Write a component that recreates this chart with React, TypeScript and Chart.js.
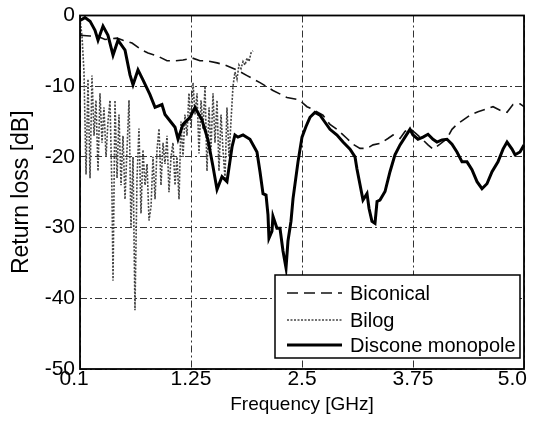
import React, { useEffect, useRef } from "react";
import { Chart, registerables } from "chart.js";

Chart.register(...registerables);

// ---- axis ticks ----
const xTickValues = [0, 1.25, 2.5, 3.75, 5];
const xTickLabels = ["0.1", "1.25", "2.5", "3.75", "5.0"];
const yTickValues = [0, -10, -20, -30, -40, -50];

const seriesNames = ["Biconical", "Bilog", "Discone monopole"];

// ---- Discone monopole ----
const disconeFreq = [
  0.0, 0.056, 0.113, 0.169, 0.203, 0.259, 0.315, 0.372, 0.428, 0.507, 0.563, 0.597,
  0.653, 0.709, 0.788, 0.845, 0.923, 0.957, 1.07, 1.104, 1.16, 1.239, 1.295, 1.374,
  1.441, 1.498, 1.543, 1.599, 1.655, 1.712, 1.745, 1.779, 1.836, 1.914, 1.993, 2.027,
  2.061, 2.095, 2.117, 2.128, 2.162, 2.173, 2.218, 2.252, 2.286, 2.32, 2.342, 2.376,
  2.399, 2.455, 2.5, 2.545, 2.59, 2.646, 2.703, 2.759, 2.815, 2.894, 2.962, 3.041,
  3.097, 3.119, 3.153, 3.187, 3.232, 3.255, 3.288, 3.322, 3.345, 3.378, 3.435, 3.491,
  3.547, 3.604, 3.66, 3.716, 3.75, 3.806, 3.863, 3.919, 3.975, 4.02, 4.077, 4.133,
  4.189, 4.245, 4.302, 4.358, 4.414, 4.471, 4.527, 4.583, 4.64, 4.707, 4.764, 4.809,
  4.865, 4.899, 4.955, 5.0,
];
const disconeLoss = [
  -0.7, -0.3, -0.8, -2.1, -3.5, -1.5, -2.8, -5.6, -3.5, -4.9, -8.4, -9.8,
  -7.7, -9.1, -11.2, -13.0, -12.6, -14.0, -15.8, -17.5, -15.4, -14.4, -13.0, -14.8,
  -17.6, -21.4, -24.6, -22.8, -23.5, -18.6, -16.9, -17.2, -16.9, -17.5, -19.3, -22.1,
  -25.2, -25.4, -28.2, -31.5, -30.5, -28.4, -30.1, -30.1, -33.3, -35.7, -31.9, -29.1,
  -25.9, -20.7, -17.2, -15.7, -14.4, -13.7, -14.1, -15.1, -16.1, -16.9, -17.9, -18.9,
  -20.0, -21.7, -23.9, -26.1, -25.2, -27.3, -29.1, -29.4, -26.3, -26.1, -24.9, -22.1,
  -19.7, -18.3, -17.2, -16.1, -16.9, -17.5, -17.2, -16.8, -17.5, -17.9, -17.6, -17.5,
  -18.2, -19.3, -20.7, -20.7, -21.8, -23.5, -24.5, -23.8, -22.1, -20.7, -18.9, -17.9,
  -18.9, -19.7, -19.3, -18.3,
];

// ---- Biconical ----
const biconicalFreq = [
  0.0, 0.113, 0.191, 0.282, 0.417, 0.484, 0.586, 0.698, 0.766, 0.867, 0.98, 1.07,
  1.16, 1.261, 1.351, 1.43, 1.543, 1.633, 1.768, 1.881, 2.027, 2.173, 2.331, 2.455,
  2.5, 2.556, 2.624, 2.736, 2.815, 2.905, 3.007, 3.074, 3.153, 3.232, 3.3, 3.378,
  3.468, 3.525, 3.604, 3.66, 3.716, 3.784, 3.863, 3.919, 3.975, 4.054, 4.133, 4.189,
  4.245, 4.313, 4.392, 4.482, 4.561, 4.651, 4.73, 4.809, 4.876, 4.955, 5.0,
];
const biconicalLoss = [
  -2.8, -2.9, -2.9, -3.4, -3.2, -3.5, -3.9, -4.9, -5.3, -5.7, -6.4, -6.4,
  -6.3, -6.0, -6.4, -6.4, -6.7, -7.0, -7.7, -8.5, -9.5, -10.6, -11.6, -11.9,
  -12.3, -12.9, -13.3, -14.1, -15.4, -16.2, -17.4, -18.2, -18.8, -18.8, -18.3, -18.1,
  -17.4, -16.9, -17.4, -16.4, -16.0, -16.7, -17.6, -18.3, -18.9, -18.2, -17.4, -16.1,
  -15.4, -14.8, -14.1, -13.6, -13.3, -12.9, -13.4, -13.7, -12.6, -12.5, -12.9,
];

// ---- Bilog ----
const bilogFreq = [
  0.0, 0.023, 0.045, 0.068, 0.09, 0.113, 0.135, 0.158, 0.18, 0.203, 0.225, 0.248,
  0.27, 0.293, 0.315, 0.338, 0.36, 0.372, 0.394, 0.417, 0.439, 0.462, 0.484, 0.507,
  0.529, 0.552, 0.574, 0.597, 0.619, 0.642, 0.664, 0.687, 0.709, 0.732, 0.755, 0.777,
  0.8, 0.822, 0.845, 0.867, 0.89, 0.912, 0.935, 0.957, 0.98, 1.002, 1.025, 1.047,
  1.07, 1.092, 1.115, 1.137, 1.16, 1.182, 1.205, 1.227, 1.25, 1.273, 1.295, 1.318,
  1.34, 1.363, 1.385, 1.408, 1.43, 1.453, 1.475, 1.498, 1.52, 1.543, 1.565, 1.588,
  1.61, 1.633, 1.655, 1.678, 1.7, 1.723, 1.745, 1.768, 1.79, 1.813, 1.836, 1.858,
  1.881, 1.903, 1.926, 1.948,
];
const bilogLoss = [
  -0.5, -3.0, -8.0, -22.5, -9.0, -23.0, -8.5, -17.0, -12.0, -22.0, -11.0, -18.0,
  -13.0, -20.0, -15.0, -12.0, -25.0, -37.5, -12.0, -23.0, -14.0, -24.0, -17.0, -26.0,
  -19.0, -12.0, -30.0, -20.0, -41.7, -23.0, -16.0, -28.0, -19.0, -24.0, -21.0, -29.0,
  -27.0, -20.0, -26.0, -19.0, -16.0, -24.0, -18.0, -21.0, -17.0, -25.0, -20.0, -18.0,
  -24.0, -20.0, -26.0, -15.0, -20.0, -14.0, -17.0, -11.0, -16.0, -9.5, -14.0, -11.0,
  -19.5, -12.0, -16.0, -10.0, -22.0, -13.0, -19.0, -11.0, -18.0, -12.0, -22.0, -14.0,
  -19.0, -23.0, -13.0, -20.0, -15.0, -10.0, -8.0, -9.0, -7.0, -7.5, -6.5, -7.0,
  -6.0, -6.5, -5.3, -5.0,
];

const FONT = "'Liberation Sans', Arial, Helvetica, sans-serif";

const toPoints = (xs: number[], ys: number[]) => xs.map((x, i) => ({ x, y: ys[i] }));

const frameLegendPlugin = {
  id: "frameLegend",
  afterDatasetsDraw(chart: any) {
    const { ctx, chartArea: a } = chart;
    ctx.save();
    ctx.setLineDash([]);
    ctx.strokeStyle = "#000";
    ctx.lineWidth = 1.8;
    ctx.strokeRect(a.left, a.top, a.right - a.left, a.bottom - a.top);

    // legend box inside the plot, bottom right
    const bx = a.right - 249;
    const by = a.bottom - 94;
    const bw = 245;
    const bh = 83;
    ctx.fillStyle = "#fff";
    ctx.fillRect(bx, by, bw, bh);
    ctx.strokeStyle = "#000";
    ctx.lineWidth = 1.5;
    ctx.strokeRect(bx, by, bw, bh);

    const rowY = [by + 18, by + 45, by + 70];
    chart.data.datasets.forEach((ds: any, i: number) => {
      const y = rowY[i];
      ctx.save();
      ctx.strokeStyle = ds.borderColor;
      ctx.lineWidth = ds.borderWidth;
      ctx.setLineDash(ds.borderDash || []);
      ctx.beginPath();
      ctx.moveTo(bx + 12, y);
      ctx.lineTo(bx + 67, y);
      ctx.stroke();
      ctx.restore();
      ctx.fillStyle = "#000";
      ctx.font = `20px ${FONT}`;
      ctx.textBaseline = "middle";
      ctx.textAlign = "left";
      ctx.fillText(ds.label, bx + 75, y + 1);
    });
    ctx.restore();
  },
};

export default function App() {
  const canvasRef = useRef<HTMLCanvasElement | null>(null);

  useEffect(() => {
    document.body.style.margin = "0";
    const canvas = canvasRef.current;
    if (!canvas) return;

    const chart = new Chart(canvas, {
      type: "line",
      data: {
        datasets: [
          {
            label: seriesNames[0],
            data: toPoints(biconicalFreq, biconicalLoss),
            borderColor: "#111",
            borderWidth: 1.6,
            borderDash: [11, 6],
            pointRadius: 0,
            tension: 0,
            fill: false,
            order: 1,
          },
          {
            label: seriesNames[1],
            data: toPoints(bilogFreq, bilogLoss),
            borderColor: "#444",
            borderWidth: 1.6,
            borderDash: [2, 1.5],
            pointRadius: 0,
            tension: 0,
            fill: false,
            order: 2,
          },
          {
            label: seriesNames[2],
            data: toPoints(disconeFreq, disconeLoss),
            borderColor: "#000",
            borderWidth: 3,
            pointRadius: 0,
            tension: 0,
            fill: false,
            order: 0,
          },
        ],
      },
      options: {
        responsive: false,
        animation: false,
        events: [],
        layout: { padding: { top: 12, right: 10, left: 0, bottom: 0 } },
        plugins: {
          legend: { display: false },
          tooltip: { enabled: false },
        },
        scales: {
          x: {
            type: "linear",
            min: 0,
            max: 5,
            afterBuildTicks: (scale: any) => {
              scale.ticks = xTickValues.map((v) => ({ value: v }));
            },
            afterFit: (scale: any) => {
              scale.height = 57;
              scale.paddingLeft = 0;
              scale.paddingRight = 0;
            },
            ticks: {
              color: "#000",
              padding: 0,
              maxRotation: 0,
              autoSkip: false,
              font: { family: FONT, size: 21, lineHeight: 1 },
              callback: (v: any) => {
                const idx = xTickValues.indexOf(Number(v));
                if (idx < 0) return "";
                const label = xTickLabels[idx];
                // nudge the end labels inward like the original figure
                if (idx === 0) return label + "\u00a0\u00a0";
                if (idx === xTickValues.length - 1) return label + "\u00a0\u00a0\u00a0\u00a0";
                return label;
              },
            },
            grid: { color: "#333", lineWidth: 1, drawTicks: false },
            border: { display: false, dash: [7, 3, 2, 3] },
            title: {
              display: true,
              text: "Frequency [GHz]",
              color: "#000",
              font: { family: FONT, size: 19, lineHeight: 1 },
              padding: { top: 0, bottom: 11.5 },
            },
          },
          y: {
            type: "linear",
            min: -50,
            max: 0,
            afterBuildTicks: (scale: any) => {
              scale.ticks = yTickValues.map((v) => ({ value: v }));
            },
            afterFit: (scale: any) => {
              scale.width = 80;
            },
            ticks: {
              color: "#000",
              padding: 5,
              font: { family: FONT, size: 21, lineHeight: 1 },
            },
            grid: { color: "#333", lineWidth: 1, drawTicks: false },
            border: { display: false, dash: [7, 3, 2, 3] },
            title: {
              display: true,
              text: "Return loss [dB]",
              color: "#000",
              font: { family: FONT, size: 23, lineHeight: 1 },
              padding: { top: 10.5, bottom: 0 },
            },
          },
        },
      },
      plugins: [frameLegendPlugin],
    });

    return () => chart.destroy();
  }, []);

  return (
    <div style={{ width: 534, height: 426, background: "#fff" }}>
      <canvas ref={canvasRef} width={534} height={426} style={{ display: "block" }} />
    </div>
  );
}
